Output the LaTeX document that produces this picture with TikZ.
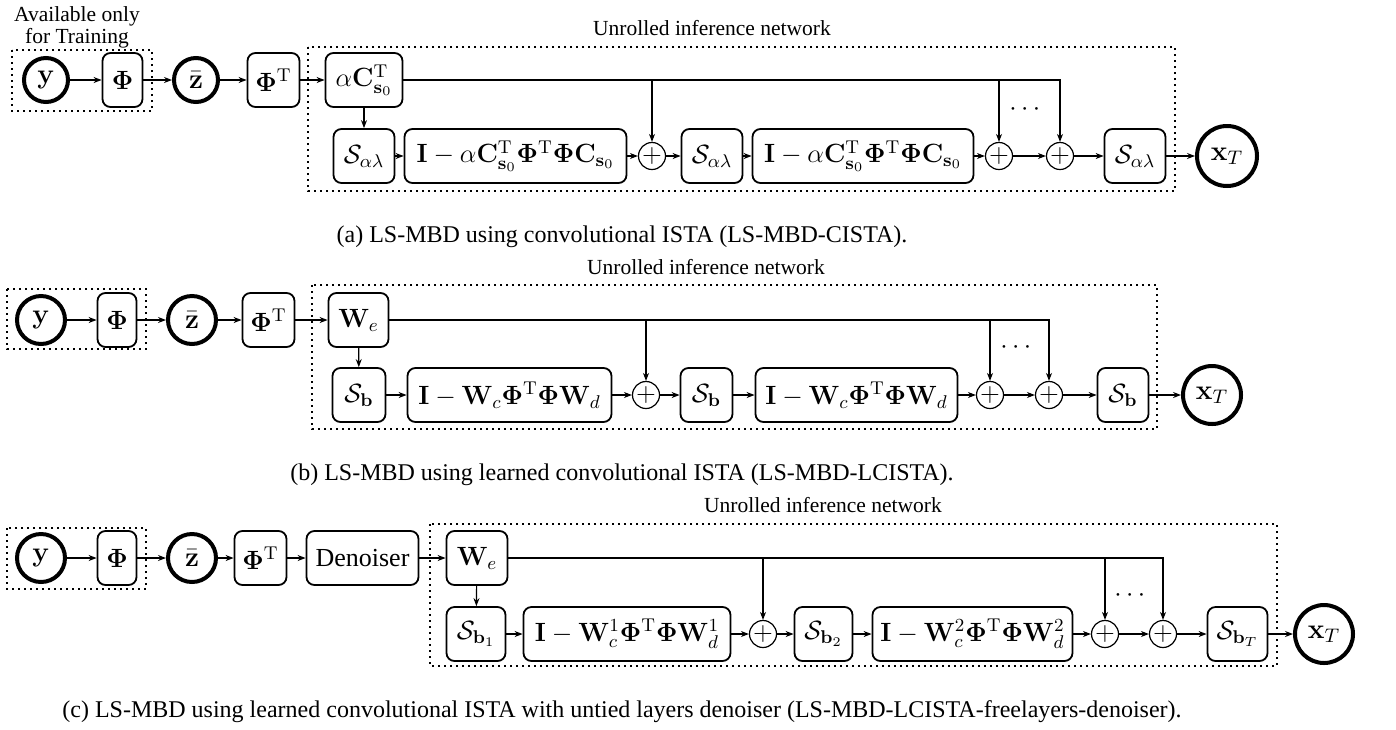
\documentclass[tikz,border=0pt]{standalone}
\usepackage{fix-cm}
\usepackage[no-math]{fontspec}
\setmainfont{Liberation Serif}
\usepackage{amsmath,amssymb}
\usetikzlibrary{arrows.meta}

\newcommand{\blkfont}{\fontsize{13.2}{16}\selectfont}
\tikzset{
  blk/.style={draw, rounded corners=4pt, line width=0.9pt, minimum height=27pt, inner sep=1pt, font=\blkfont},
  sig/.style={draw, circle, line width=2pt, inner sep=0pt, font=\fontsize{14}{16}\selectfont},
  sum/.style={draw, circle, line width=0.6pt, minimum size=13.5pt, inner sep=0pt, font=\fontsize{13}{16}\selectfont},
  grp/.style={draw, dotted, line width=1pt},
  lnk/.style={->, line width=0.6pt},
  lbl/.style={font=\fontsize{10.75}{8.5}\selectfont, align=center, inner sep=0pt},
  captxt/.style={font=\fontsize{12}{14}\selectfont, inner sep=0pt},
}
\def\Sb#1{\mathcal{S}_{#1}}
\def\Phib{\mathbf{\Phi}}
\def\tp{^{\mathrm{T}}}

\begin{document}
\begin{tikzpicture}[x=0.5pt, y=-0.5pt, >={Stealth[length=4pt,width=3pt]}]
	\useasboundingbox (0,0) rectangle (1396,729);
	%%%%% (a) CISTA %%%%%
	
	\node[lbl] (avail) at (77,27) {Available only\\for Training};
	\draw[grp] (12,50) rectangle (152,111);
	\node[lbl] (aunr) at (712,28) {Unrolled inference network};
	\draw[grp] (308,47) rectangle (1175,191);
	
	\node[sig, minimum size=22pt] (ay) at (46,80) {$\mathbf{y}$};
	\node[blk, minimum width=20pt] (aPhi) at (122.5,80) {$\Phib$};
	\node[sig, minimum size=22pt] (az) at (196,80) {$\bar{\mathbf{z}}$};
	\node[blk, minimum width=26pt] (aPhiT) at (273.5,80) {$\Phib\tp$};
	\node[blk, minimum width=38.5pt] (aC) at (364,80) {$\alpha\mathbf{C}_{\mathbf{s}_0}\tp$};
	
	\node[blk, minimum width=30.5pt] (aS1) at (364,156) {$\Sb{\alpha\lambda}$};
	\node[blk, minimum width=111pt] (aI1) at (515.5,156) {$\mathbf{I}-\alpha\mathbf{C}_{\mathbf{s}_0}\tp\Phib\tp\Phib\mathbf{C}_{\mathbf{s}_0}$};
	\node[sum] (ap1) at (652,156) {$+$};
	\node[blk, minimum width=30.5pt] (aS2) at (712,156) {$\Sb{\alpha\lambda}$};
	\node[blk, minimum width=110.5pt] (aI2) at (863,156) {$\mathbf{I}-\alpha\mathbf{C}_{\mathbf{s}_0}\tp\Phib\tp\Phib\mathbf{C}_{\mathbf{s}_0}$};
	\node[sum] (ap2) at (999,156) {$+$};
	\node[sum] (ap3) at (1060,156) {$+$};
	\node[blk, minimum width=30.5pt] (aS3) at (1135,156) {$\Sb{\alpha\lambda}$};
	\node[sig, minimum size=30pt] (ax) at (1227,156) {$\mathbf{x}_T$};
	\node[font=\blkfont] (adots) at (1027,110) {$\cdots$};
	
	\draw[lnk] (ay) -- (aPhi);
	\draw[lnk] (aPhi) -- (az);
	\draw[lnk] (az) -- (aPhiT);
	\draw[lnk] (aPhiT) -- (aC);
	\draw[lnk] (aC) -- (aS1);
	\draw[lnk] (aC) -| (ap3);
	\draw[lnk] (aC -| ap1) -- (ap1);
	\draw[lnk] (aC -| ap2) -- (ap2);
	\draw[lnk] (aS1) -- (aI1);
	\draw[lnk] (aI1) -- (ap1);
	\draw[lnk] (ap1) -- (aS2);
	\draw[lnk] (aS2) -- (aI2);
	\draw[lnk] (aI2) -- (ap2);
	\draw[lnk] (ap2) -- (ap3);
	\draw[lnk] (ap3) -- (aS3);
	\draw[lnk] (aS3) -- (ax);
	
	\node[captxt] (capa) at (622,237) {(a) LS-MBD using convolutional ISTA (LS-MBD-CISTA).};
	
	%%%%% (b) LCISTA %%%%%
	
	\draw[grp] (7,289) rectangle (146,349);
	\node[lbl] (bunr) at (706,267) {Unrolled inference network};
	\draw[grp] (312,285) rectangle (1157,429);
	
	\node[sig, minimum size=24pt] (by) at (41,320) {$\mathbf{y}$};
	\node[blk, minimum width=19.5pt] (bPhi) at (117,320) {$\Phib$};
	\node[sig, minimum size=24pt] (bz) at (192,320) {$\bar{\mathbf{z}}$};
	\node[blk, minimum width=26pt] (bPhiT) at (268.5,320) {$\Phib\tp$};
	\node[blk, minimum width=30pt] (bW) at (358.5,320) {$\mathbf{W}_e$};
	
	\node[blk, minimum width=26.5pt] (bS1) at (359,395) {$\Sb{\mathbf{b}}$};
	\node[blk, minimum width=102pt] (bI1) at (509.5,395) {$\mathbf{I}-\mathbf{W}_c\Phib\tp\Phib\mathbf{W}_d$};
	\node[sum] (bp1) at (646,395) {$+$};
	\node[blk, minimum width=26pt] (bS2) at (706.5,395) {$\Sb{\mathbf{b}}$};
	\node[blk, minimum width=101pt] (bI2) at (856.5,395) {$\mathbf{I}-\mathbf{W}_c\Phib\tp\Phib\mathbf{W}_d$};
	\node[sum] (bp2) at (990,395) {$+$};
	\node[sum] (bp3) at (1049,395) {$+$};
	\node[blk, minimum width=25.5pt] (bS3) at (1123,395) {$\Sb{\mathbf{b}}$};
	\node[sig, minimum size=29pt] (bx) at (1212,395) {$\mathbf{x}_T$};
	\node[font=\blkfont] (bdots) at (1018,348) {$\cdots$};
	
	\draw[lnk] (by) -- (bPhi);
	\draw[lnk] (bPhi) -- (bz);
	\draw[lnk] (bz) -- (bPhiT);
	\draw[lnk] (bPhiT) -- (bW);
	\draw[lnk] (bW) -- (bS1);
	\draw[lnk] (bW) -| (bp3);
	\draw[lnk] (bW -| bp1) -- (bp1);
	\draw[lnk] (bW -| bp2) -- (bp2);
	\draw[lnk] (bS1) -- (bI1);
	\draw[lnk] (bI1) -- (bp1);
	\draw[lnk] (bp1) -- (bS2);
	\draw[lnk] (bS2) -- (bI2);
	\draw[lnk] (bI2) -- (bp2);
	\draw[lnk] (bp2) -- (bp3);
	\draw[lnk] (bp3) -- (bS3);
	\draw[lnk] (bS3) -- (bx);
	
	\node[captxt] (capb) at (622,475) {(b) LS-MBD using learned convolutional ISTA (LS-MBD-LCISTA).};
	
	%%%%% (c) LCISTA with denoiser %%%%%
	
	\draw[grp] (7,528) rectangle (146,589);
	\node[lbl] (cunr) at (823,505) {Unrolled inference network};
	\draw[grp] (430,524) rectangle (1277,666);
	
	\node[sig, minimum size=24pt] (cy) at (41,558) {$\mathbf{y}$};
	\node[blk, minimum width=19.5pt] (cPhi) at (117,558) {$\Phib$};
	\node[sig, minimum size=24pt] (cz) at (192,558) {$\bar{\mathbf{z}}$};
	\node[blk, minimum width=26pt] (cPhiT) at (260.5,558) {$\Phib\tp$};
	\node[blk, minimum width=56pt, font=\fontsize{13}{16}\selectfont] (cden) at (362.5,558) {Denoiser};
	\node[blk, minimum width=30.5pt] (cW) at (477,558) {$\mathbf{W}_e$};
	
	\node[blk, minimum width=29.5pt] (cS1) at (476,634) {$\Sb{\mathbf{b}_1}$};
	\node[blk, minimum width=103.5pt] (cI1) at (627,634) {$\mathbf{I}-\mathbf{W}_c^1\Phib\tp\Phib\mathbf{W}_d^1$};
	\node[sum] (cp1) at (763,634) {$+$};
	\node[blk, minimum width=29pt] (cS2) at (823.5,634) {$\Sb{\mathbf{b}_2}$};
	\node[blk, minimum width=100pt] (cI2) at (972.5,634) {$\mathbf{I}-\mathbf{W}_c^2\Phib\tp\Phib\mathbf{W}_d^2$};
	\node[sum] (cp2) at (1105,634) {$+$};
	\node[sum] (cp3) at (1163,634) {$+$};
	\node[blk, minimum width=30pt] (cS3) at (1237.5,634) {$\Sb{\mathbf{b}_T}$};
	\node[sig, minimum size=29pt] (cx) at (1324,634) {$\mathbf{x}_T$};
	\node[font=\blkfont] (cdots) at (1132,596) {$\cdots$};
	
	\draw[lnk] (cy) -- (cPhi);
	\draw[lnk] (cPhi) -- (cz);
	\draw[lnk] (cz) -- (cPhiT);
	\draw[lnk] (cPhiT) -- (cden);
	\draw[lnk] (cden) -- (cW);
	\draw[lnk] (cW) -- (cS1);
	\draw[lnk] (cW) -| (cp3);
	\draw[lnk] (cW -| cp1) -- (cp1);
	\draw[lnk] (cW -| cp2) -- (cp2);
	\draw[lnk] (cS1) -- (cI1);
	\draw[lnk] (cI1) -- (cp1);
	\draw[lnk] (cp1) -- (cS2);
	\draw[lnk] (cS2) -- (cI2);
	\draw[lnk] (cI2) -- (cp2);
	\draw[lnk] (cp2) -- (cp3);
	\draw[lnk] (cp3) -- (cS3);
	\draw[lnk] (cS3) -- (cx);
	
	\node[captxt] (capc) at (622,712) {(c) LS-MBD using learned convolutional ISTA with untied layers denoiser (LS-MBD-LCISTA-freelayers-denoiser).};
	
	%%%%% END %%%%%
\end{tikzpicture}
\end{document}
